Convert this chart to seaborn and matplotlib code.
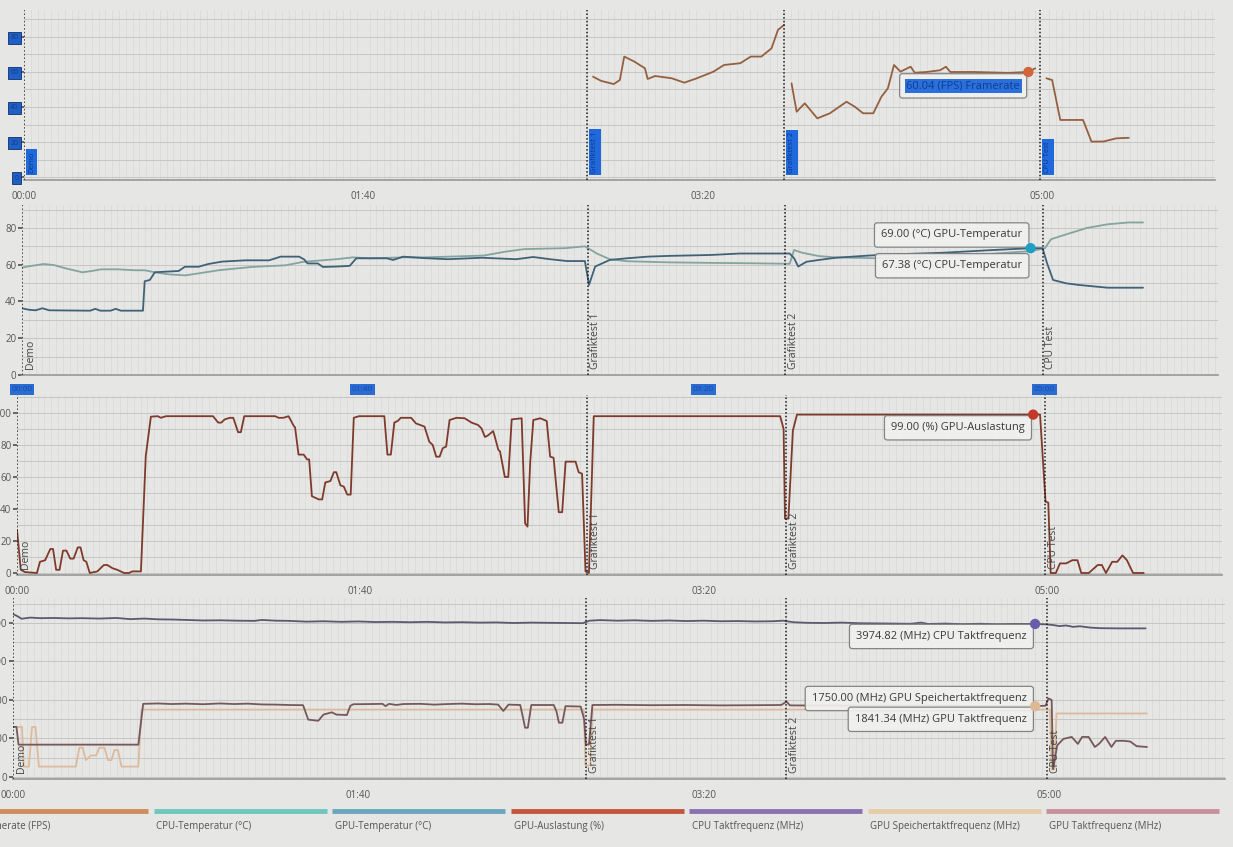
import numpy as np
import pandas as pd
import matplotlib.pyplot as plt
import matplotlib.ticker as mticker
import seaborn as sns

# ---------------- data (x = seconds since start of run) ----------------
event_times = [0, 166, 224, 299.5]
event_names = ["Demo", "Grafiktest 1", "Grafiktest 2", "CPU Test"]
time_ticks = [0, 100, 200, 300]

# Framerate (FPS) - only logged while a test is running
fps_gt1 = [(167.7, 57.3), (170.1, 54.9), (173.8, 53.1), (175.6, 55.4), (176.9, 68.8), (179.9, 65.9),
           (183.0, 62.1), (183.8, 56.0), (186.0, 57.7), (190.9, 56.4), (194.6, 53.9), (198.3, 56.4),
           (203.2, 60.2), (206.3, 64.0), (211.1, 65.0), (214.2, 68.8), (217.3, 68.8), (220.3, 73.5),
           (222.2, 84.0), (224.0, 86.9)]
fps_gt2 = [(226.2, 53.5), (227.7, 37.3), (230.1, 42.1), (233.8, 33.5), (237.5, 36.4), (242.4, 43.0),
           (244.8, 40.2), (247.3, 36.4), (250.3, 36.4), (252.7, 45.9), (254.6, 50.7), (256.4, 64.0),
           (258.3, 60.2), (261.3, 63.0), (262.5, 59.6), (266.0, 60.0), (270.0, 61.0), (271.7, 63.0),
           (273.0, 60.0), (280.0, 60.0), (290.0, 59.5), (296.0, 60.0), (298.0, 62.1)]
fps_cpu = [(301.3, 56.4), (303.0, 55.4), (305.4, 32.6), (312.1, 32.6), (314.6, 20.2), (318.2, 20.3),
           (321.9, 22.1), (325.6, 22.4)]

cpu_temp = [(0, 58.4), (1.5, 59), (6.4, 60.4), (9.4, 59.8), (13.3, 57.8), (17.7, 55.9), (20.2, 56.5),
            (23.2, 57.5), (28.1, 57.5), (33, 57), (36, 57), (38.9, 55.9), (42.9, 54.8), (47.8, 54.2),
            (50.8, 55), (57.7, 57), (67.5, 58.8), (77.4, 59.7), (82.3, 61.5), (87.3, 62.3), (92.2, 63),
            (97.1, 64), (102.1, 63.5), (111.9, 64), (118, 64), (135.6, 65), (141.5, 67), (147.4, 68.5),
            (159.3, 69), (165.2, 70), (168.8, 66), (172.5, 63), (177.5, 61.9), (189.7, 61.3), (202, 61),
            (214.3, 60.8), (225.3, 60.5), (226.6, 68), (229, 66.5), (233.9, 64.7), (238.8, 64),
            (251.1, 63.5), (270, 64.5), (285, 66), (296, 67.38), (300.2, 69), (302, 73.9),
            (306.4, 76.5), (312.5, 80), (318.6, 82), (324.8, 83), (329, 83)]
gpu_temp = [(0, 36.3), (2, 35.5), (4, 35.2), (6, 36.3), (8, 35.2), (20, 35), (21.5, 36), (23, 35),
            (26, 35), (27.5, 36), (29, 35), (35.5, 35), (36, 51), (37.5, 51.7), (39, 55.9), (46, 56.6),
            (47.8, 58.9), (51.8, 58.9), (54.7, 60.4), (58.7, 61.7), (65.6, 62.4), (72.5, 62.4),
            (74.4, 63.5), (75.9, 64.4), (81.3, 64.4), (82.8, 62.9), (83.8, 60.7), (86.8, 60.7),
            (88.3, 58.8), (92.2, 59), (96.2, 59.4), (98.1, 63.5), (107, 63.5), (108.9, 62.6),
            (111.9, 64.4), (118, 63.6), (125, 63), (135, 63.8), (145, 63), (150, 64.2), (155, 63),
            (160, 62), (165.2, 62), (166.4, 49), (168.2, 59), (172.5, 62.6), (177.5, 63.5),
            (183.6, 64.4), (189.7, 64.8), (202, 65.3), (210.6, 66.1), (225.3, 66.1), (226.6, 63.5),
            (227.8, 59), (230.2, 61.6), (233.9, 62.6), (238.8, 63.8), (248.6, 65), (253.5, 65.5),
            (270, 66.5), (285, 68), (296, 69), (299.5, 69), (300.8, 61), (302.6, 51.7), (306.4, 49.9),
            (310.1, 49), (318.6, 47.5), (329, 47.5)]

gpu_load = [(0, 27), (1.1, 2), (2.3, 0.6), (5.8, 0), (6.7, 7), (8.2, 8), (9.7, 15), (10.5, 15), (11.4, 2),
            (12.4, 2), (13.4, 14), (14.4, 14), (15.5, 9), (16.5, 9), (17.7, 16), (18.5, 16), (19.4, 8),
            (20.2, 7), (21.2, 0), (23.4, 1), (25.3, 5), (26.3, 5), (27.8, 3), (29.2, 2), (31.2, 0),
            (32.6, 0), (33.6, 1), (36.1, 1), (37.5, 73), (39, 97.7), (41, 98), (41.9, 97), (43.4, 98),
            (57.1, 98), (58.6, 94), (59.5, 94), (60.5, 96), (62, 97), (63, 97), (64.4, 88), (65.2, 88),
            (66.2, 98), (75.2, 98), (76.2, 97), (77.6, 97), (79.1, 98), (80.6, 92), (81, 91), (82, 74),
            (83.5, 74), (84.5, 71), (85.1, 71), (85.9, 48), (87.9, 46), (88.9, 46), (89.8, 56.6),
            (91.3, 57.5), (92.3, 63), (93, 63), (94.2, 54.8), (95.2, 54), (96.2, 49), (97.2, 49),
            (98.1, 97), (99.6, 98), (107, 98), (107.9, 74), (108.9, 74), (109.9, 94), (110.9, 95),
            (111.8, 97), (114.8, 97), (116.2, 93.5), (118.7, 91.5), (120.1, 82), (121.1, 80),
            (122.1, 72.7), (123.1, 72.7), (124, 78), (125, 79), (126, 95.6), (128, 97), (130.4, 96.7),
            (132.4, 94), (134.3, 92.5), (135.3, 90.4), (136.3, 85), (137.2, 86), (138.7, 88.7),
            (139.2, 85), (140.2, 77), (140.7, 76), (142.1, 60), (143.1, 60), (144.1, 96), (147, 96.7),
            (148, 31), (148.7, 29), (149.5, 69.6), (150.4, 95.6), (152.4, 96.7), (154.3, 95),
            (155.3, 72.7), (156.3, 72), (157.8, 38), (158.8, 38), (159.8, 69.6), (162.7, 69.6),
            (163.6, 63), (164.6, 62), (165.6, 1), (166.6, 0), (168, 98), (222.3, 98), (223.3, 90),
            (223.7, 34), (224.7, 34), (226, 89), (227.2, 99), (298, 99), (299.6, 44.6), (300.4, 44),
            (301.1, 0), (302.6, 0), (303.8, 6), (305.6, 6), (307.4, 8), (308.9, 8), (310, 0),
            (312.2, 0), (314.8, 5), (316, 5), (317.2, 0), (319, 7), (320.5, 7), (322, 11), (323.3, 8),
            (325.1, 0), (328.2, 0)]

cpu_clock = [(0, 4230), (1, 4190), (2.5, 4110), (5, 4140), (8, 4125), (12, 4130), (16, 4120), (20, 4125),
             (25, 4115), (30, 4130), (34, 4100), (38, 4115), (42, 4095), (46, 4090), (50, 4080),
             (55, 4065), (60, 4070), (65, 4060), (70, 4055), (72, 4080), (76, 4060), (80, 4055),
             (85, 4035), (90, 4045), (95, 4030), (100, 4040), (105, 4025), (110, 4030), (115, 4020),
             (120, 4030), (125, 4015), (130, 4020), (135, 4010), (140, 4015), (145, 4000), (150, 4010),
             (155, 4005), (160, 4000), (165, 3995), (167, 4060), (170, 4075), (175, 4060), (180, 4070),
             (185, 4055), (190, 4065), (195, 4050), (200, 4060), (205, 4045), (210, 4050), (215, 4040),
             (220, 4045), (223, 4060), (226, 4020), (230, 4005), (235, 4000), (240, 4010), (245, 3995),
             (250, 3990), (255, 3985), (260, 3980), (263, 4010), (265, 3975), (270, 3985), (275, 3970),
             (280, 3980), (285, 3968), (290, 3975), (296, 3975), (299, 3965), (301, 3950), (303, 3920),
             (305, 3935), (307, 3900), (309, 3915), (312, 3880), (315, 3865), (320, 3860), (328, 3860)]
gpu_clock = [(0, 1300), (1.0, 1300), (1.6, 840), (36.3, 840), (37.7, 1900), (42, 1910), (46, 1895),
             (50, 1905), (55, 1890), (60, 1910), (64, 1895), (68, 1905), (72, 1885), (76, 1880),
             (80, 1870), (84, 1865), (85.5, 1490), (88.4, 1460), (89.9, 1620), (92.3, 1680),
             (93.7, 1620), (96.7, 1610), (97.7, 1850), (98.6, 1890), (104, 1895), (107, 1900),
             (107.9, 1840), (108.9, 1900), (111, 1870), (113, 1895), (118, 1900), (122, 1880),
             (126, 1895), (130, 1905), (134, 1890), (138, 1895), (140.5, 1880), (142, 1715),
             (143.5, 1880), (146.9, 1870), (147.8, 1500), (148.3, 1280), (149.1, 1280), (150.1, 1870),
             (156.6, 1870), (157.4, 1700), (158.1, 1410), (159.1, 1410), (160, 1840), (164.4, 1830),
             (165.4, 1500), (165.9, 845), (166.8, 845), (167.8, 1870), (175, 1875), (185, 1865),
             (195, 1870), (205, 1860), (215, 1865), (222.5, 1870), (224, 1960), (225, 1860),
             (235, 1855), (250, 1850), (265, 1850), (280, 1845), (296, 1841), (299, 1850),
             (299.9, 2040), (300.8, 2000), (301.2, 200), (302.4, 820), (304.2, 990), (306.6, 1040),
             (308.4, 860), (309.6, 1040), (311.5, 1040), (313.3, 780), (314.5, 860), (316.3, 1040),
             (318.1, 780), (319.4, 940), (321.8, 940), (323.6, 920), (325.4, 800), (328.4, 780)]
gpu_mem_clock = [(0, 1300), (2.6, 1300), (3.1, 270), (4.6, 270), (5.5, 1300), (6.5, 1300), (7.5, 270),
                 (18.2, 270), (19.2, 760), (20.2, 760), (21.1, 440), (22.6, 560), (24.1, 560), (25, 760),
                 (26.5, 760), (27.5, 440), (28.5, 440), (29.4, 700), (30.4, 700), (31.4, 270),
                 (36.3, 270), (37.2, 1750), (165.3, 1750), (165.8, 300), (167.2, 300), (167.8, 1750),
                 (296, 1750), (300.3, 1750), (300.8, 200), (301.6, 200), (302.2, 1650), (328.4, 1650)]

legend_labels = ["Framerate (FPS)", "CPU-Temperatur (°C)", "GPU-Temperatur (°C)", "GPU-Auslastung (%)",
                 "CPU Taktfrequenz (MHz)", "GPU Speichertaktfrequenz (MHz)", "GPU Taktfrequenz (MHz)"]
legend_colors = ["#cf8d5c", "#6fc6bd", "#6aa6bf", "#c4563d", "#8a72b2", "#e6cda8", "#c9909b"]

hover_t = 296  # mouse position of the read-out tooltips

# ---------------- styling ----------------
W, H = 1233, 847
BG = "#e6e6e4"
sns.set_theme(style="white")
plt.rcParams["font.family"] = ["Open Sans", "DejaVu Sans"]


def frame(pairs, seg=0):
    df = pd.DataFrame(pairs, columns=["t", "v"])
    df["seg"] = seg
    return df


def mmss(t):
    return f"{int(t) // 60:02d}:{int(t) % 60:02d}"


def add_panel(left, top, right, bottom, ylim, yticks, ystep):
    ax = fig.add_axes([left / W, 1 - bottom / H, (right - left) / W, (bottom - top) / H])
    ax.set_facecolor(BG)
    ax.set_xlim(0, 351)
    ax.set_ylim(*ylim)
    ax.set_xticks(time_ticks, labels=[mmss(t) for t in time_ticks])
    ax.set_yticks(yticks, labels=[str(v) for v in yticks])
    ax.xaxis.set_minor_locator(mticker.MultipleLocator(2))
    ax.yaxis.set_minor_locator(mticker.MultipleLocator(ystep))
    ax.grid(which="both", axis="y", color="#c6c6c6", lw=0.7)
    ax.grid(which="minor", axis="x", color="#d9d9d9", lw=0.5)
    ax.set_axisbelow(True)
    for s in ["top", "right", "left"]:
        ax.spines[s].set_visible(False)
    ax.spines["bottom"].set_color("#9a9a9a")
    ax.tick_params(axis="x", which="major", length=5, color="#777777", labelsize=7,
                   labelcolor="#555555", pad=3)
    ax.tick_params(axis="y", which="major", length=3, color="#555555", labelsize=7,
                   labelcolor="#555555", pad=1, left=True)
    ax.tick_params(which="minor", length=0)
    return ax


def add_events(ax, boxed=False):
    for t, name in zip(event_times, event_names):
        ax.axvline(t, color="#1c1c1c", lw=1.1, ls=(0, (1, 1.4)), zorder=4)
        if boxed:
            ax.annotate(name, xy=(t, 0), xycoords=("data", "axes fraction"), xytext=(3, 5),
                        textcoords="offset points", rotation=90, ha="left", va="bottom",
                        fontsize=5.5, color="#0c3b85",
                        bbox=dict(boxstyle="square,pad=0.3", fc="#2069dc", ec="none"), zorder=5)
        else:
            ax.annotate(name, xy=(t, 0), xycoords=("data", "axes fraction"), xytext=(2, 4),
                        textcoords="offset points", rotation=90, ha="left", va="bottom",
                        fontsize=7.5, color="#444444", zorder=5)


def tooltip(ax, pairs, text, dy, dot_color=None, highlight=False):
    t, v = zip(*pairs)
    y = np.interp(hover_t, t, v)
    box = dict(boxstyle="round,pad=0.6,rounding_size=0.25", fc="#f0f0ef", ec="#7c7c7c", lw=0.9, alpha=0.92)
    if highlight:
        ax.annotate(text, xy=(hover_t, y), xytext=(-6, dy), textcoords="offset points", ha="right",
                    va="center", fontsize=8, color="none", bbox=box, zorder=7)
        ax.annotate(text, xy=(hover_t, y), xytext=(-6, dy), textcoords="offset points", ha="right",
                    va="center", fontsize=8, color="#0e3f8c",
                    bbox=dict(boxstyle="square,pad=0.15", fc="#2a6fdc", ec="none"), zorder=8)
    else:
        ax.annotate(text, xy=(hover_t, y), xytext=(-6, dy), textcoords="offset points", ha="right",
                    va="center", fontsize=8, color="#3a3a3a", bbox=box, zorder=7)
    if dot_color:
        ax.scatter([hover_t], [y], s=55, color=dot_color, edgecolor="none", zorder=9)


fig = plt.figure(figsize=(W / 100, H / 100), dpi=100, facecolor=BG)

# ---- panel 1: framerate ----
ax1 = add_panel(24, 10, 1215, 180, (-1.7, 95.4), [0, 20, 40, 60, 80], 10)
fps_df = pd.concat([frame(fps_gt1, 1), frame(fps_gt2, 2), frame(fps_cpu, 3)])
sns.lineplot(data=fps_df, x="t", y="v", units="seg", estimator=None, color="#94603f", lw=1.3, ax=ax1)
for lab in ax1.get_yticklabels():
    lab.set_color("#123f8a")
    lab.set_fontsize(5)
    lab.set_bbox(dict(boxstyle="square,pad=0.35", fc="#1f5fc6", ec="#0f2f6a", lw=0.6))
add_events(ax1, boxed=True)
tooltip(ax1, fps_gt2, "60.04 (FPS) Framerate", -10, "#d2643a", highlight=True)

# ---- panel 2: temperatures ----
ax2 = add_panel(22, 205, 1218, 375, (0, 92.5), [0, 20, 40, 60, 80], 10)
sns.lineplot(data=frame(cpu_temp), x="t", y="v", estimator=None, color="#84a4a1", lw=1.3, ax=ax2)
sns.lineplot(data=frame(gpu_temp), x="t", y="v", estimator=None, color="#3f6277", lw=1.3, ax=ax2)
for lab in ax2.get_xticklabels():
    lab.set_color("#1a4d9c")
    lab.set_fontsize(6)
    lab.set_bbox(dict(boxstyle="square,pad=0.2", fc="#2b6cd4", ec="none"))
add_events(ax2)
tooltip(ax2, gpu_temp, "69.00 (°C) GPU-Temperatur", 9.5, "#1ea0c4")
tooltip(ax2, cpu_temp, "67.38 (°C) CPU-Temperatur", -10.5)

# ---- panel 3: GPU load ----
ax3 = add_panel(17, 395, 1222, 575, (-1.25, 111.25), [0, 20, 40, 60, 80, 100], 10)
sns.lineplot(data=frame(gpu_load), x="t", y="v", estimator=None, color="#7e3a2b", lw=1.3, ax=ax3)
add_events(ax3)
tooltip(ax3, gpu_load, "99.00 (%) GPU-Auslastung", -9.5, "#c23a2a")

# ---- panel 4: clocks ----
ax4 = add_panel(13, 598, 1225, 779, (-52, 4649), [0, 1000, 2000, 3000, 4000], 500)
sns.lineplot(data=frame(gpu_mem_clock), x="t", y="v", estimator=None, color="#dbbb9c", lw=1.3, ax=ax4)
sns.lineplot(data=frame(gpu_clock), x="t", y="v", estimator=None, color="#76585b", lw=1.3, ax=ax4)
sns.lineplot(data=frame(cpu_clock), x="t", y="v", estimator=None, color="#5d586f", lw=1.3, ax=ax4)
add_events(ax4)
tooltip(ax4, cpu_clock, "3974.82 (MHz) CPU Taktfrequenz", -9, "#6a5ca8")
tooltip(ax4, gpu_mem_clock, "1750.00 (MHz) GPU Speichertaktfrequenz", 8)
tooltip(ax4, gpu_clock, "1841.34 (MHz) GPU Taktfrequenz", -9.5, "#dcb894")

for ax in (ax1, ax2, ax3, ax4):
    ax.set_xlabel("")
    ax.set_ylabel("")

# ---- legend strip along the bottom ----
lax = fig.add_axes([0, 0, 1, 50 / H])
lax.set_xlim(0, W)
lax.set_ylim(50, 0)
lax.axis("off")
for i, (lab, col) in enumerate(zip(legend_labels, legend_colors)):
    x0 = -25 + i * 178.5
    lax.plot([x0, x0 + 173], [14, 14], color=col, lw=3.5, solid_capstyle="butt")
    lax.text(x0 + 3, 29, lab, fontsize=7, color="#555555", ha="left", va="center")

fig.savefig("out.png", dpi=100, facecolor=BG)
